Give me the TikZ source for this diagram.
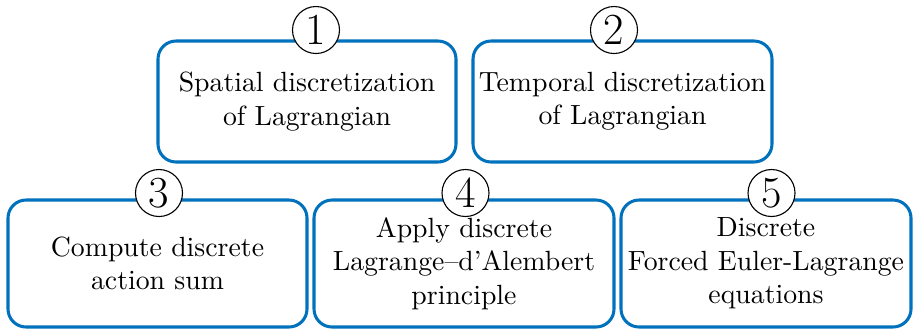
\documentclass[tikz,border=0pt]{standalone}
\definecolor{boxblue}{RGB}{0,114,189}
\tikzset{
  stagebox/.style={draw=boxblue, line width=1.1pt, rounded corners=6.5pt,
    rectangle, align=center, inner sep=0pt,
    font=\fontsize{10}{12}\selectfont},
  numcirc/.style={circle, draw=black, line width=0.4pt, fill=white,
    minimum size=47*0.36pt, inner sep=0pt,
    font=\fontsize{16}{16}\selectfont}
}
\begin{document}
\begin{tikzpicture}[x=0.36pt, y=-0.36pt]
\useasboundingbox (0,0) rectangle (913,330);
\node[stagebox, minimum width=298*0.36pt, minimum height=121*0.36pt] (b1) at (307,101.5)
  {Spatial discretization\\of Lagrangian};
\node[stagebox, minimum width=299*0.36pt, minimum height=121*0.36pt] (b2) at (622.5,101.5)
  {Temporal discretization\\of Lagrangian};
\node[stagebox, minimum width=299*0.36pt, minimum height=127*0.36pt] (b3) at (157.5,263.5)
  {Compute discrete\\action sum};
\node[stagebox, minimum width=300*0.36pt, minimum height=127*0.36pt] (b4) at (464,263.5)
  {Apply discrete\\Lagrange--d'Alembert\\principle};
\node[stagebox, minimum width=290*0.36pt, minimum height=127*0.36pt] (b5) at (766,263.5)
  {Discrete\\Forced Euler-Lagrange\\equations};
\node[numcirc] (n1) at (316,30) {1};
\node[numcirc] (n2) at (614,30) {2};
\node[numcirc] (n3) at (159,193) {3};
\node[numcirc] (n4) at (465.5,193) {4};
\node[numcirc] (n5) at (771.5,193) {5};
\end{tikzpicture}
\end{document}
